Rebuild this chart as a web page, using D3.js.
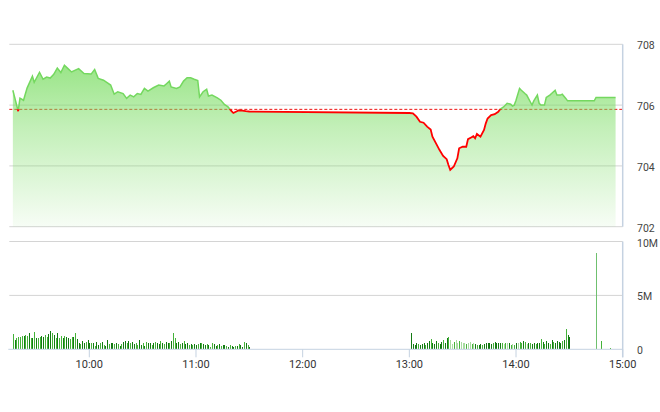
<!DOCTYPE html>
<html><head><meta charset="utf-8">
<script src="https://cdn.jsdelivr.net/npm/d3@7"></script>
<style>body{margin:0;background:#fff}svg{display:block;font-family:Roboto,Arial,sans-serif}</style>
</head><body>
<svg id="chart" width="660" height="412"></svg>
<script>
const priceTimes = ["9:17","9:20","9:21","9:23","9:25","9:28","9:29","9:32","9:34","9:36","9:38","9:40","9:42","9:44","9:46","9:48","9:50","9:54","9:57","10:01","10:03","10:05","10:08","10:10","10:12","10:14","10:16","10:19","10:21","10:23","10:25","10:27","10:29","10:31","10:33","10:36","10:39","10:42","10:43","10:45","10:46","10:49","10:51","10:53","10:55","10:57","10:59","11:01","11:02","11:04","11:06","11:07","11:09","11:12","11:14","11:16","11:18","11:20","11:21","11:23","11:24","11:26","11:28","11:30",
"13:00","13:02","13:04","13:06","13:08","13:10","13:12","13:13","13:15","13:17","13:19","13:21","13:22","13:23","13:25","13:27","13:28","13:30","13:32","13:33","13:35","13:36","13:37","13:38","13:40","13:42","13:43","13:44","13:46","13:48","13:50","13:51","13:53","13:55","13:57","13:58","13:59","14:00","14:02","14:03","14:05","14:06","14:08","14:09","14:10","14:12","14:13","14:14","14:16","14:17","14:19","14:20","14:22","14:23","14:25","14:26","14:28","14:29","14:44","14:45","14:56"];
const priceValues = [706.49,705.80,706.23,706.16,706.56,706.95,706.75,707.08,706.85,706.92,706.89,707.01,707.22,707.07,707.31,707.20,707.09,707.20,707.04,707.02,707.17,706.88,706.82,706.74,706.66,706.36,706.44,706.38,706.22,706.33,706.27,706.38,706.35,706.55,706.46,706.57,706.66,706.63,706.68,706.79,706.60,706.55,706.60,706.79,706.90,706.90,706.85,706.81,706.27,706.44,706.52,706.30,706.33,706.24,706.16,706.02,705.94,705.80,705.74,705.80,705.83,705.82,705.80,705.79,
705.74,705.73,705.62,705.45,705.42,705.29,705.20,704.96,704.74,704.52,704.33,704.22,704.03,703.87,703.98,704.25,704.58,704.63,704.63,704.88,704.94,704.98,704.91,705.05,704.96,705.18,705.40,705.56,705.67,705.70,705.78,705.86,705.94,706.06,706.03,705.97,706.00,706.16,706.55,706.49,706.38,706.33,706.11,706.00,706.14,706.33,706.06,706.00,706.00,706.25,706.33,706.38,706.49,706.33,706.33,706.36,706.22,706.14,706.14,706.25,706.25];
const refPrice = 705.86;
const priceTicks = [702, 704, 706, 708];
const volTicks = [0, 5, 10];
const volTickLabels = ["0", "5M", "10M"];
const hourTicks = ["10:00","11:00","12:00","13:00","14:00","15:00"];
const domainStart = "9:15", domainEnd = "15:00";

const morningStart = "9:17";
const morningVolumes = [1.42,0.86,1.02,1.17,1.17,1.23,1.27,1.33,1.23,1.48,
1.02,1.02,1.57,1.02,1.02,1.11,1.23,1.17,1.33,
1.11,1.42,1.70,1.54,1.33,1.02,1.48,1.02,1.23,
1.02,1.23,1.11,1.02,0.93,1.17,1.11,1.48,0.93,0.62,
0.49,0.80,0.56,0.71,0.86,0.56,0.62,0.56,0.31,
0.71,0.40,0.56,0.71,0.40,0.31,0.86,0.49,0.56,0.62,
0.49,0.62,0.49,0.31,0.49,0.71,0.80,0.62,0.80,
0.56,0.71,0.49,0.62,0.40,0.86,0.40,0.62,0.31,
0.71,0.56,0.62,0.40,0.56,0.71,0.62,0.49,0.80,0.62,
0.49,0.71,0.62,0.56,0.80,1.48,1.02,0.56,0.71,0.49,
0.56,0.80,0.49,0.56,0.40,0.49,0.40,0.49,0.40,0.49,
0.56,0.56,0.49,0.40,0.49,0.40,0.25,0.56,0.49,
0.31,0.43,0.49,0.31,0.40,0.37,0.31,0.25,0.40,0.31,
0.25,0.34,0.31,0.49,0.40,0.25,0.71,0.62,0.40,0.25];
const morningSides = "GDGGGGDGGDGDGDGGDDGGDDGDGDGGDGDDGGDGDDGDDGDDGDGDDGDGDDGDDGDGDGDDGDGDDGGDDGDGDDGDGDDGDGDDGDGGDDGDGDDGDGDDGDGDDGDGGDDGDGDDGDGDDGDGDDGDGD";

const afternoonStart = "13:01";
const afternoonVolumes = [1.54,
0.49,0.40,0.62,0.49,0.43,0.49,0.56,0.40,0.62,0.80,
0.93,0.56,0.49,0.80,0.56,0.49,0.71,0.86,0.62,
1.02,1.11,0.86,0.49,0.71,0.86,0.62,0.80,0.71,0.56,
0.62,0.49,0.56,0.71,0.49,0.56,0.49,0.43,0.40,
0.49,0.43,0.49,0.56,0.62,0.56,0.49,0.62,0.71,
0.62,0.62,0.56,0.56,0.49,0.56,0.62,0.56,0.40,
0.49,0.40,0.62,0.56,0.71,0.62,0.80,0.71,0.49,
0.56,0.62,0.49,0.56,0.49,0.56,0.62,0.93,0.71,
0.49,0.80,0.62,0.49,0.86,0.71,0.62,0.80,0.71,0.62,
0.80,0.86,1.85,1.33,1.17];
const afternoonSides = "DDDDGDDDGDDGDDDGDDGDDGLLGLLGLLLGLLGLDGDDGDDDDDGDDDDGLGLDGLGDLGGDGLDGDDGDDGDGDDGDGDDDDGDGDD";

const lateTimes = ["14:33","14:38","14:45","14:48","14:53"];
const lateVolumes = [0.06, 0.05, 8.95, 0.8, 0.12];
const lateSides = "GGSGG";

// ---- drawing ----
const parse = d3.timeParse("%H:%M");
const svg = d3.select("#chart");
const left = 9.3, right = 622.7;
const x = d3.scaleTime().domain([parse(domainStart), parse(domainEnd)]).range([left, right]);
const yP = d3.scaleLinear().domain([702, 708]).range([226.7, 44.3]);
const yV = d3.scaleLinear().domain([0, 10]).range([349.3, 241.5]);

const prices = priceTimes.map((t, i) => ({t: parse(t), v: priceValues[i]}));
const addMin = (d, m) => new Date(d.getTime() + m * 60000);
const bars = [];
morningVolumes.forEach((v, i) => bars.push({t: addMin(parse(morningStart), i), v, s: morningSides[i] || "G"}));
afternoonVolumes.forEach((v, i) => bars.push({t: addMin(parse(afternoonStart), i), v, s: afternoonSides[i] || "G"}));
lateTimes.forEach((t, i) => bars.push({t: parse(t), v: lateVolumes[i], s: lateSides[i]}));
const sideColor = {D: "#137a13", G: "#45b33a", L: "#a9dca2", S: "#6fc06f"};

const defs = svg.append("defs");
const grad = defs.append("linearGradient").attr("id", "ag").attr("gradientUnits", "userSpaceOnUse")
  .attr("x1", 0).attr("x2", 0).attr("y1", yP(708)).attr("y2", yP(702));
grad.append("stop").attr("offset", "0%").attr("stop-color", "rgb(120,220,96)").attr("stop-opacity", 0.85);
grad.append("stop").attr("offset", "45%").attr("stop-color", "rgb(120,220,96)").attr("stop-opacity", 0.45);
grad.append("stop").attr("offset", "100%").attr("stop-color", "rgb(120,220,96)").attr("stop-opacity", 0.06);
defs.append("clipPath").attr("id", "above").append("rect")
  .attr("x", 0).attr("y", 0).attr("width", 660).attr("height", yP(refPrice));
defs.append("clipPath").attr("id", "below").append("rect")
  .attr("x", 0).attr("y", yP(refPrice)).attr("width", 660).attr("height", 300);

// grid lines
svg.append("g").selectAll("line").data(priceTicks).join("line")
  .attr("x1", left).attr("x2", right).attr("y1", d => yP(d)).attr("y2", d => yP(d))
  .attr("stroke", "#d4d4d4").attr("stroke-width", 1);
svg.append("g").selectAll("line").data(volTicks.slice(1)).join("line")
  .attr("x1", left).attr("x2", right).attr("y1", d => yV(d)).attr("y2", d => yV(d))
  .attr("stroke", "#d4d4d4").attr("stroke-width", 1);

// reference dashed line
svg.append("line").attr("x1", left).attr("x2", right).attr("y1", yP(refPrice)).attr("y2", yP(refPrice))
  .attr("stroke", "#ee1111").attr("stroke-width", 1).attr("stroke-dasharray", "3,2");

// area
const area = d3.area().x(d => x(d.t)).y0(yP(702)).y1(d => yP(d.v));
svg.append("path").datum(prices).attr("d", area).attr("fill", "url(#ag)");
const line = d3.line().x(d => x(d.t)).y(d => yP(d.v));
svg.append("path").datum(prices).attr("d", line).attr("fill", "none")
  .attr("stroke", "#74d85f").attr("stroke-width", 1.5).attr("clip-path", "url(#above)");
svg.append("path").datum(prices).attr("d", line).attr("fill", "none")
  .attr("stroke", "#ff0000").attr("stroke-width", 1.8).attr("clip-path", "url(#below)");

// volume bars
svg.append("g").attr("shape-rendering", "crispEdges").selectAll("rect").data(bars).join("rect")
  .attr("x", d => Math.round(x(d.t)) - 0.5).attr("width", 1)
  .attr("y", d => yV(d.v)).attr("height", d => yV(0) - yV(d.v))
  .attr("fill", d => sideColor[d.s]);

// axes frame
const axisCol = "#c5d2e1";
svg.append("line").attr("x1", right).attr("x2", right).attr("y1", yP(708)).attr("y2", yP(702))
  .attr("stroke", axisCol).attr("stroke-width", 1.5);
svg.append("line").attr("x1", right).attr("x2", right).attr("y1", yV(10)).attr("y2", yV(0) + 8)
  .attr("stroke", axisCol).attr("stroke-width", 1.5);
svg.append("line").attr("x1", left - 1).attr("x2", right).attr("y1", yV(0)).attr("y2", yV(0))
  .attr("stroke", axisCol).attr("stroke-width", 1);
svg.append("g").selectAll("line").data(hourTicks).join("line")
  .attr("x1", d => x(parse(d))).attr("x2", d => x(parse(d)))
  .attr("y1", yV(0)).attr("y2", yV(0) + 8).attr("stroke", axisCol).attr("stroke-width", 1);

// labels
svg.append("g").selectAll("text").data(hourTicks).join("text")
  .attr("x", d => x(parse(d))).attr("y", 368).attr("text-anchor", "middle")
  .attr("font-size", 11).attr("fill", "#333").text(d => d);
svg.append("g").selectAll("text").data(priceTicks).join("text")
  .attr("x", 637).attr("y", d => yP(d) + 5).attr("font-size", 10.5).attr("fill", "#444").text(d => d);
svg.append("g").selectAll("text").data(volTicks).join("text")
  .attr("x", 637).attr("y", (d, i) => yV(d) + (i === 2 ? 5.5 : 5)).attr("font-size", 10.5).attr("fill", "#444")
  .text((d, i) => volTickLabels[i]);
</script>
</body></html>
